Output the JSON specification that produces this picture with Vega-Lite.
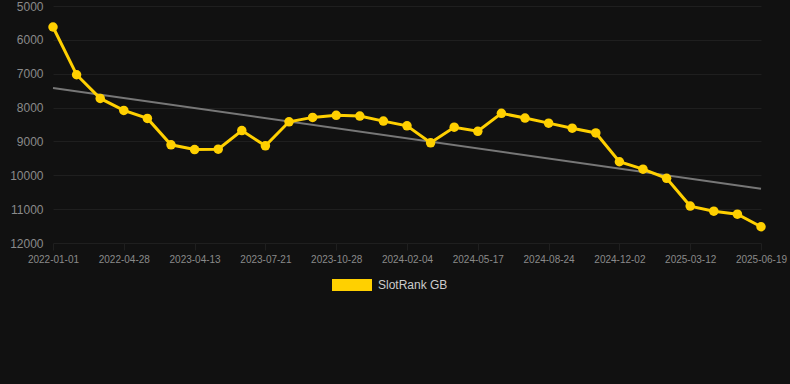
{
  "$schema": "https://vega.github.io/schema/vega-lite/v6.json",
  "autosize": "none",
  "width": 745,
  "height": 237,
  "padding": {"left": 45, "top": 6, "right": 0, "bottom": 141},
  "background": "#111111",
  "config": {
    "view": {"stroke": null},
    "font": "Liberation Sans",
    "axis": {
      "gridColor": "#1f1f1f",
      "gridWidth": 1,
      "domain": false,
      "labelColor": "#8a8a8a",
      "labelFont": "Liberation Sans"
    }
  },
  "datasets": {
    "ranks": [
      {"date": "2022-01-01", "rank": 5620},
      {"date": "2022-02-09", "rank": 7030},
      {"date": "2022-03-20", "rank": 7730},
      {"date": "2022-04-28", "rank": 8085},
      {"date": "2022-09-01", "rank": 8320},
      {"date": "2022-12-20", "rank": 9100},
      {"date": "2023-04-13", "rank": 9240},
      {"date": "2023-05-16", "rank": 9230},
      {"date": "2023-06-18", "rank": 8680},
      {"date": "2023-07-21", "rank": 9130},
      {"date": "2023-08-23", "rank": 8420},
      {"date": "2023-09-25", "rank": 8290},
      {"date": "2023-10-28", "rank": 8230},
      {"date": "2023-11-30", "rank": 8250},
      {"date": "2024-01-02", "rank": 8400},
      {"date": "2024-02-04", "rank": 8540},
      {"date": "2024-03-10", "rank": 9040},
      {"date": "2024-04-13", "rank": 8580},
      {"date": "2024-05-17", "rank": 8700},
      {"date": "2024-06-19", "rank": 8170},
      {"date": "2024-07-22", "rank": 8310},
      {"date": "2024-08-24", "rank": 8460},
      {"date": "2024-09-26", "rank": 8610},
      {"date": "2024-10-29", "rank": 8750},
      {"date": "2024-12-02", "rank": 9600},
      {"date": "2025-01-04", "rank": 9820},
      {"date": "2025-02-06", "rank": 10090},
      {"date": "2025-03-12", "rank": 10910},
      {"date": "2025-04-14", "rank": 11060},
      {"date": "2025-05-17", "rank": 11150},
      {"date": "2025-06-19", "rank": 11520}
    ],
    "trend": [
      {"date": "2022-01-01", "rank": 7420},
      {"date": "2025-06-19", "rank": 10400}
    ]
  },
  "encoding": {
    "x": {
      "field": "date",
      "type": "ordinal",
      "scale": {"type": "point", "padding": 0, "range": [8, 716]},
      "axis": {
        "title": null,
        "labelAngle": 0,
        "labelFontSize": 10,
        "labelPadding": 4,
        "tickColor": "#1f1f1f",
        "tickSize": 7,
        "values": ["2022-01-01", "2022-04-28", "2023-04-13", "2023-07-21", "2023-10-28", "2024-02-04", "2024-05-17", "2024-08-24", "2024-12-02", "2025-03-12", "2025-06-19"]
      }
    },
    "y": {
      "field": "rank",
      "type": "quantitative",
      "scale": {"domain": [5000, 12000], "reverse": true, "nice": false},
      "axis": {
        "title": null,
        "format": "d",
        "values": [5000, 6000, 7000, 8000, 9000, 10000, 11000, 12000],
        "labelFontSize": 12,
        "ticks": false,
        "labelPadding": 2
      }
    }
  },
  "layer": [
    {
      "data": {"name": "trend"},
      "mark": {"type": "line", "color": "#777777", "strokeWidth": 2}
    },
    {
      "data": {"name": "ranks"},
      "mark": {"type": "line", "strokeWidth": 3},
      "encoding": {
        "color": {
          "datum": "SlotRank GB",
          "scale": {"range": ["#FFD000"]},
          "legend": {
            "title": null,
            "orient": "none",
            "legendX": 287,
            "legendY": 259,
            "symbolType": "M-1,-0.3H1V0.3H-1Z",
            "symbolSize": 1600,
            "symbolFillColor": "#FFD000",
            "symbolStrokeWidth": 0,
            "labelColor": "#cccccc",
            "labelFontSize": 12,
            "labelFont": "Liberation Sans",
            "labelOffset": 6
          }
        }
      }
    },
    {
      "data": {"name": "ranks"},
      "mark": {"type": "circle", "size": 90, "opacity": 1},
      "encoding": {
        "color": {"datum": "SlotRank GB"}
      }
    }
  ]
}
